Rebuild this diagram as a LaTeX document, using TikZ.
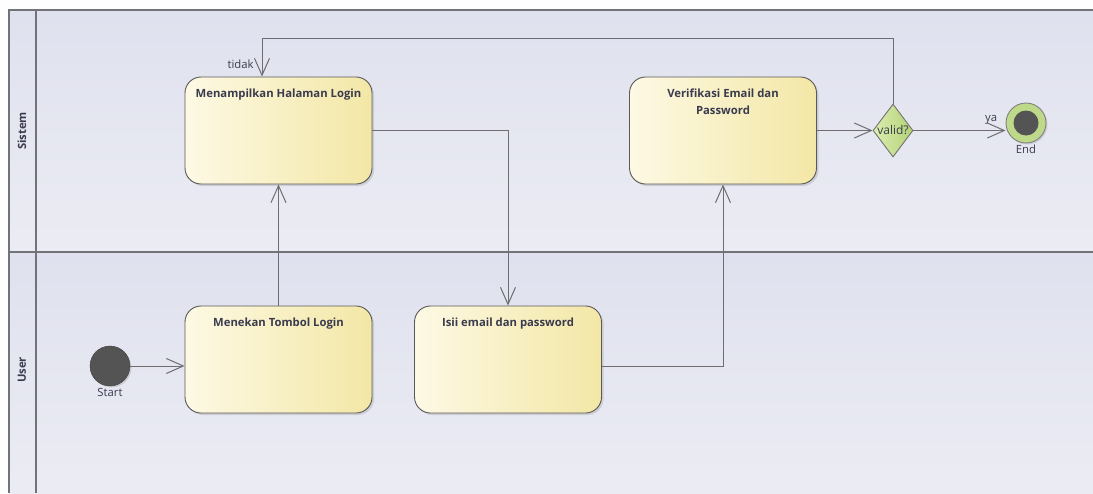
\documentclass[tikz,border=0pt]{standalone}
\usepackage{fontspec}
\setmainfont{Open Sans}
\usetikzlibrary{arrows.meta,shapes.geometric,shadows}

\definecolor{frameline}{HTML}{727378}
\definecolor{flowline}{HTML}{6E6E70}
\definecolor{textcol}{HTML}{3A3B4E}
\definecolor{boxleft}{HTML}{FDF9E4}
\definecolor{boxright}{HTML}{F3E7A6}
\definecolor{lanetop}{HTML}{DFE1EE}
\definecolor{lanebottom}{HTML}{EBECF3}
\definecolor{greenleft}{HTML}{DCEDB2}
\definecolor{greenright}{HTML}{B2D274}

\begin{document}
\begin{tikzpicture}[x=1pt,y=-1pt,font=\fontsize{11.3}{14}\selectfont,text=textcol]
\tikzset{
% Node styles for the activity diagram: actions, start, end and decision
action node/.style={rectangle,rounded corners=16pt,draw=black!65,line width=0.9pt,
  left color=boxleft,right color=boxright,minimum width=187pt,minimum height=107pt,
  drop shadow={shadow xshift=2pt,shadow yshift=-2pt,opacity=0.25}},
action text/.style={anchor=north,yshift=-9pt,font=\fontsize{11.3}{17}\selectfont\bfseries,align=center},
start node/.style={circle,draw=black!75,fill=black!67,minimum size=40pt,inner sep=0pt,
  drop shadow={shadow xshift=1.5pt,shadow yshift=-1.5pt,opacity=0.25}},
end node/.style={circle,draw=black!50,line width=0.9pt,fill=greenright!85!white,minimum size=40pt,inner sep=0pt,
  drop shadow={shadow xshift=1.5pt,shadow yshift=-1.5pt,opacity=0.25}},
decision node/.style={diamond,draw=black!55,line width=0.9pt,left color=greenleft,right color=greenright,
  minimum width=40pt,minimum height=53pt,inner sep=0pt,aspect=0.75},
flow/.style={draw=flowline,line width=1pt,-{Straight Barb[length=17pt,width=15pt]}}
}

\useasboundingbox (0,0) rectangle (1093,493);
% background and swimlanes
\fill[white!96!lanetop] (0,0) rectangle (1093,493);
\shade[top color=lanetop,bottom color=lanebottom] (9,10) rectangle (1093,252);
\shade[top color=lanetop,bottom color=lanebottom] (9,252) rectangle (1093,493);
\draw[frameline,line width=1.8pt] (1093,10) -- (9,10) -- (9,493);
\draw[frameline,line width=1.5pt] (36,10) -- (36,493);
\draw[frameline,line width=1.8pt] (9,252) -- (1093,252);
\node[rotate=90,font=\fontsize{11.3}{14}\selectfont\bfseries] (sistem) at (22,131) {Sistem};
\node[rotate=90,font=\fontsize{11.3}{14}\selectfont\bfseries] (user) at (22,370) {User};

% The actions
\node(start)[start node,label={[yshift=1pt]below:{Start}}] at (110,366) {};
\node(tekan)[action node,label={[action text]north:{Menekan Tombol Login}}] at (278.5,359.5) {};
\node(isi)[action node,label={[action text]north:{Isii email dan password}}] at (508,359.5) {};
\node(tampil)[action node,label={[action text]north:{Menampilkan Halaman Login}}] at (278.5,130.5) {};
\node(verif)[action node,label={[action text]north:{Verifikasi Email dan\\ Password}}] at (723,130.5) {};
\node(valid)[decision node] at (893,130.5) {};
\node(validtext)[font=\fontsize{12}{14}\selectfont] at (valid) {valid?};
\node(end)[end node,label={[yshift=2pt]below:{End}}] at (1026,123) {};
\node(endcore)[circle,fill=black!67,minimum size=25pt,inner sep=0pt] at (end) {};

% The flows
\draw[flow] (start) -- (start -| tekan.west);
\draw[flow] (tekan) -- (tampil);
\draw[flow] (tampil.east) -| (isi.north);
\draw[flow] ([yshift=-6.5pt]isi.east) -| (verif.south);
\draw[flow] (verif) -- (valid);
\coordinate (loop) at (262,38);
\draw[flow] (valid.north) |- (loop) -- (loop |- tampil.north)
  node[pos=1,above left,inner sep=2pt,xshift=-6pt,yshift=5pt]{tidak};
\draw[flow] (valid.east) -- (valid.east -| end.west)
  node[pos=1,above left,inner sep=2pt,xshift=-6pt,yshift=4pt]{ya};
\end{tikzpicture}
\end{document}
